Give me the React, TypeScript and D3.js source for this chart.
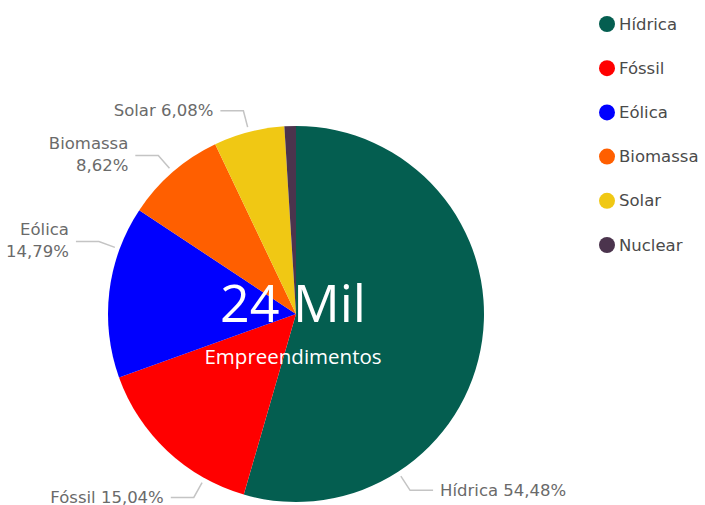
import React from "react";
import * as d3 from "d3";

const categories = ["Hídrica", "Fóssil", "Eólica", "Biomassa", "Solar", "Nuclear"];
const shares = [54.48, 15.04, 14.79, 8.62, 6.08, 0.99];
const shareLabels = ["54,48%", "15,04%", "14,79%", "8,62%", "6,08%", ""];
const colors = ["#045E50", "#FF0000", "#0000FF", "#FF5F00", "#F0C814", "#4B344D"];
const centerValue = "24 Mil";
const centerCaption = "Empreendimentos";

// layout: where along each slice the leader line starts (fraction of its angular span)
const labelFrac = [0.75, 0.24, 0.75, 0.5, 0.5, -1];
const labelTwoLines = [false, false, true, true, false, false];

const W = 705, H = 505;
const cx = 296, cy = 314, R = 188;
const labelFont = "'DejaVu Sans', sans-serif";

export default function App() {
  const pie = d3.pie<number>().sort(null).value((d) => d).startAngle(0).endAngle(2 * Math.PI);
  const arcs = pie(shares);
  const arc = d3.arc<d3.PieArcDatum<number>>().innerRadius(0).outerRadius(R);

  const legendY = d3.scaleLinear().domain([0, 5]).range([24, 245]);

  return (
    <svg width={W} height={H} style={{ position: "absolute", left: 0, top: 0, background: "#fff" }}>
      <g transform={`translate(${cx},${cy})`}>
        {arcs.map((a, i) => (
          <path key={i} d={arc(a) || ""} fill={colors[i]} />
        ))}
        {arcs.map((a, i) => {
          if (labelFrac[i] < 0) return null;
          const ang = a.startAngle + (a.endAngle - a.startAngle) * labelFrac[i];
          const sx = Math.sin(ang), sy = -Math.cos(ang);
          const p0 = [sx * (R + 5), sy * (R + 5)];
          const p1 = [sx * (R + 22), sy * (R + 22)];
          const right = sx > 0;
          const p2 = [p1[0] + (right ? 23 : -23), p1[1]];
          const tx = p2[0] + (right ? 7 : -7);
          const anchor = right ? "start" : "end";
          return (
            <g key={"l" + i}>
              <polyline
                points={[p0, p1, p2].map((p) => p.join(",")).join(" ")}
                fill="none"
                stroke="#C4C4C4"
                strokeWidth={1.5}
              />
              {labelTwoLines[i] ? (
                <text x={tx} y={p2[1]} textAnchor={anchor} fontFamily={labelFont} fontSize={16.5} fill="#6A6A6A">
                  <tspan x={tx} dy={-6}>{categories[i]}</tspan>
                  <tspan x={tx} dy={22}>{shareLabels[i]}</tspan>
                </text>
              ) : (
                <text x={tx} y={p2[1] + 5.5} textAnchor={anchor} fontFamily={labelFont} fontSize={16.5} fill="#6A6A6A">
                  {categories[i] + " " + shareLabels[i]}
                </text>
              )}
            </g>
          );
        })}
        <text x={-3} y={8} textAnchor="middle" fontFamily="'Open Sans', sans-serif" fontSize={52} fill="#fff">
          {centerValue}
        </text>
        <text x={-3} y={50} textAnchor="middle" fontFamily="'Open Sans', sans-serif" fontSize={20.5} fill="#fff">
          {centerCaption}
        </text>
      </g>
      <g>
        {categories.map((c, i) => (
          <g key={c} transform={`translate(0,${legendY(i)})`}>
            <circle cx={607} cy={0} r={8} fill={colors[i]} />
            <text x={619} y={5.5} fontFamily={labelFont} fontSize={16.5} fill="#4A4A4A">
              {c}
            </text>
          </g>
        ))}
      </g>
    </svg>
  );
}
